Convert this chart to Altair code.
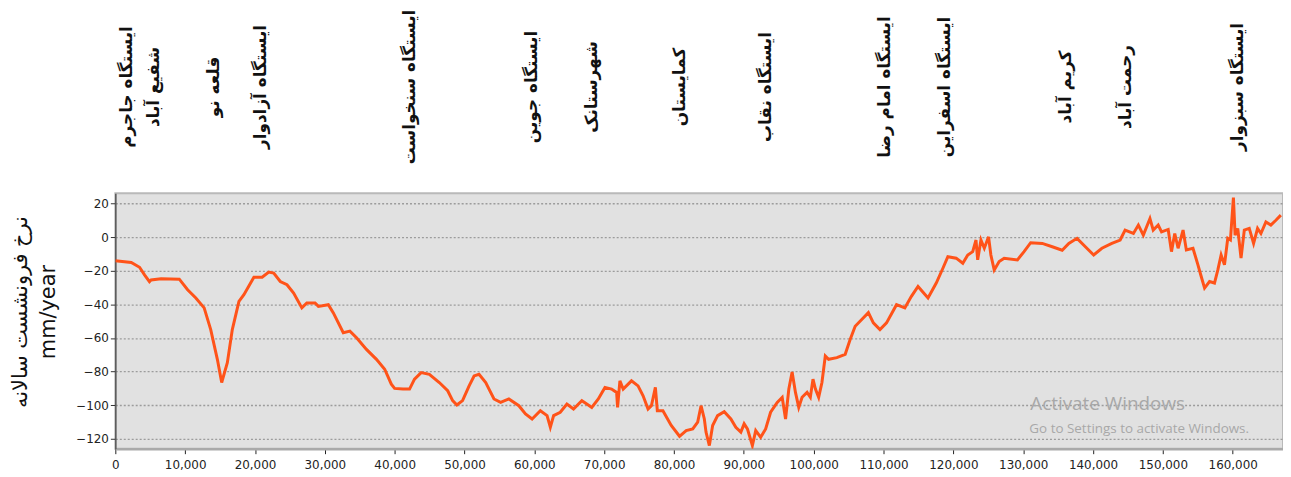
import altair as alt
import pandas as pd

# distance along the profile (m) and annual subsidence rate (mm/year)
dist = [0, 2280, 3470, 4180, 4890, 5120, 6550, 9160, 10350, 11530, 12720, 13660, 14610, 15230,
        16040, 16750, 17700, 18410, 19840, 21020, 21970, 22680, 23620, 24580, 25530, 26710, 27420,
        28600, 29080, 30500, 31220, 32640, 33590, 34540, 35960, 37390, 38570, 39520, 39990, 41190,
        42130, 42840, 43790, 44970, 46390, 47590, 48300, 48910, 49720, 50660, 51370, 52080, 53040,
        53510, 54220, 55170, 56350, 57780, 58730, 59680, 60860, 61820, 62290, 62760, 63710, 64660,
        65610, 66800, 67510, 68220, 69160, 70110, 71060, 71780, 71920, 72250, 72720, 73910, 74850,
        75570, 76280, 76760, 77330, 77610, 78410, 79600, 80790, 81740, 82680, 83390, 83870, 84340,
        84580, 85060, 85530, 86240, 87190, 88140, 88850, 89570, 90040, 90510, 91220, 91700, 92410,
        93120, 93830, 94780, 95490, 95970, 96440, 96910, 97390, 97860, 98340, 99050, 99520, 99900,
        100250, 100710, 101180, 101660, 102130, 103320, 104510, 105220, 105940, 106880, 107830,
        108540, 109490, 110430, 111860, 113050, 113990, 114940, 116370, 117550, 118500, 119210,
        120400, 121350, 122060, 122770, 123240, 123480, 123950, 124430, 125040, 125370, 125850,
        126560, 127270, 129170, 130120, 131070, 132730, 134160, 135580, 136530, 137710, 138900,
        140090, 141270, 142690, 143880, 144590, 145780, 146490, 147200, 148150, 148620, 149330,
        149810, 150760, 151230, 151700, 152180, 152890, 153360, 154310, 155020, 155490, 155970,
        156680, 157390, 157870, 158340, 158820, 159290, 159670, 160100, 160340, 160720, 161190,
        161660, 162370, 162990, 163560, 164040, 164750, 165460, 166180, 166890]

rate = [-14.0, -15.1, -17.9, -22.4, -26.5, -25.5, -24.8, -25.0, -31.3, -36.2, -42.1, -55.0, -72.7, -86.5,
        -74.7, -55.0, -38.2, -34.2, -23.8, -23.8, -20.8, -21.4, -26.4, -28.3, -33.3, -42.1, -39.2,
        -39.2, -41.2, -40.2, -45.1, -56.9, -55.9, -59.9, -66.8, -72.7, -78.6, -87.5, -90.0, -90.4,
        -90.4, -84.5, -80.6, -81.6, -86.5, -91.4, -97.3, -99.9, -97.3, -88.5, -82.6, -81.6, -86.5,
        -90.4, -96.3, -98.3, -96.3, -100.3, -105.2, -108.2, -103.3, -106.2, -113.1, -106.2, -104.2, -99.3,
        -102.3, -97.3, -99.3, -101.3, -96.3, -89.4, -90.4, -92.4, -101.3, -85.5, -90.4, -85.5, -88.5,
        -94.4, -102.3, -100.3, -89.4, -103.3, -103.3, -112.1, -118.5, -115.1, -114.1, -110.1, -100.3, -108.2,
        -116.0, -124.0, -112.1, -106.2, -103.9, -108.2, -113.1, -116.0, -111.1, -114.1, -124.0, -115.1, -119.1,
        -114.1, -104.2, -98.3, -95.3, -108.2, -90.4, -80.2, -92.4, -101.3, -95.3, -92.4, -95.3, -84.5,
        -90.4, -95.3, -86.5, -70.7, -72.7, -71.7, -69.7, -60.9, -53.0, -49.0, -44.9,
        -51.0, -55.0, -51.0, -40.2, -42.1, -35.2, -29.3, -36.2, -27.3, -18.5, -11.6,
        -12.5, -15.5, -10.6, -8.6, -1.7, -13.5, -1.7, -6.6, 0.2, -10.6, -19.5,
        -14.5, -12.5, -13.5, -8.6, -3.3, -3.7, -5.7, -7.8, -3.7, -0.7, -5.7,
        -10.6, -6.6, -3.7, -1.7, 4.2, 2.2, 7.2, 1.2, 11.1, 4.2, 7.2,
        3.2, 4.6, -8.6, 2.2, -6.6, 4.2, -7.6, -6.6, -16.5, -23.4, -30.3,
        -26.4, -27.3, -19.5, -10.6, -16.5, -0.7, -1.7, 23.5, 1.2, 5.2, -12.5,
        4.2, 5.2, -3.7, 5.2, 2.2, 9.1, 7.2, 10.1, 13.1]

station_names = ["ایستگاه جاجرم", "شفیع آباد", "قلعه نو", "ایستگاه آزادوار", "ایستگاه سنخواست",
                 "ایستگاه جوین", "شهرستانک", "کمایستان", "ایستگاه نقاب", "ایستگاه امام رضا",
                 "ایستگاه اسفراین", "کریم آباد", "رحمت آباد", "ایستگاه سبزوار"]
station_x = [1700, 5550, 14200, 20900, 42250, 59600, 68300, 80800, 93200, 110200,
             118800, 136100, 144700, 160700]

x_ticks = [0, 10000, 20000, 30000, 40000, 50000, 60000, 70000, 80000, 90000,
           100000, 110000, 120000, 130000, 140000, 150000, 160000]
y_ticks = [-120, -100, -80, -60, -40, -20, 0, 20]
y_title = ["نرخ فرونشست سالانه", "mm/year"]

wm_text = ["Activate Windows", "Go to Settings to activate Windows."]
wm_x = [131000, 130880]
wm_y = [-99.3, -114.2]
wm_size = [19, 13.5]

df = pd.DataFrame({"d": dist, "r": rate})
st = pd.DataFrame({"name": station_names, "x": station_x})
wm = pd.DataFrame({"t": wm_text, "x": wm_x, "y": wm_y, "s": wm_size})

xscale = alt.Scale(domain=[0, 167200], nice=False, zero=False)
yscale = alt.Scale(domain=[-125.9, 26.1], nice=False, zero=False)

x_axis = alt.Axis(values=x_ticks, labelExpr="format(datum.value, ',.0f')", title=None, grid=False,
                  domainColor="#a9a9a9", domainWidth=2.5, tickColor="#222222",
                  tickSize=5, labelPadding=6, labelFontSize=12, labelFont="DejaVu Sans",
                  labelColor="#222222", labelFlush=False)
y_axis = alt.Axis(values=y_ticks, title=y_title, grid=True, gridDash=[2, 2],
                  gridColor="#9c9c9c", gridWidth=1.3, domainColor="#555555",
                  domainWidth=1.5, tickColor="#333333", tickSize=5, labelPadding=2,
                  labelFontSize=12, labelFont="DejaVu Sans", labelColor="#222222",
                  titleAngle=270, titleX=-95, titleY=119, titleAlign="center",
                  titleBaseline="middle", titleFontSize=21, titleFont="DejaVu Sans",
                  titleFontWeight="normal", titleColor="#111111", titleLineHeight=28)

line = alt.Chart(df).mark_line(color="#ff5319", strokeWidth=3, clip=True).encode(
    x=alt.X("d:Q", scale=xscale, axis=x_axis),
    y=alt.Y("r:Q", scale=yscale, axis=y_axis),
)

labels = alt.Chart(st).mark_text(angle=270, align="center", baseline="middle", fontSize=17,
                                 font="DejaVu Sans", fontWeight="bold", color="#111111").encode(
    x=alt.X("x:Q", scale=xscale, axis=x_axis),
    y=alt.value(-107),
    text="name:N",
)

water = alt.Chart(wm).mark_text(align="left", baseline="middle", font="Open Sans",
                                color="#a8a8a8").encode(
    x=alt.X("x:Q", scale=xscale, axis=x_axis),
    y=alt.Y("y:Q", scale=yscale, axis=y_axis),
    text="t:N",
    size=alt.Size("s:Q", scale=None, legend=None),
)

chart = alt.layer(line, labels, water).properties(
    width=1175, height=257,
    padding={"left": 108, "top": 185, "right": 0, "bottom": 30},
    autosize=alt.AutoSizeParams(type="none"),
).configure(background="white").configure_view(fill="#e1e1e1", stroke="#b9b9b9", strokeWidth=2)

chart.save("out.html", embed_options={"renderer": "svg", "actions": False})
